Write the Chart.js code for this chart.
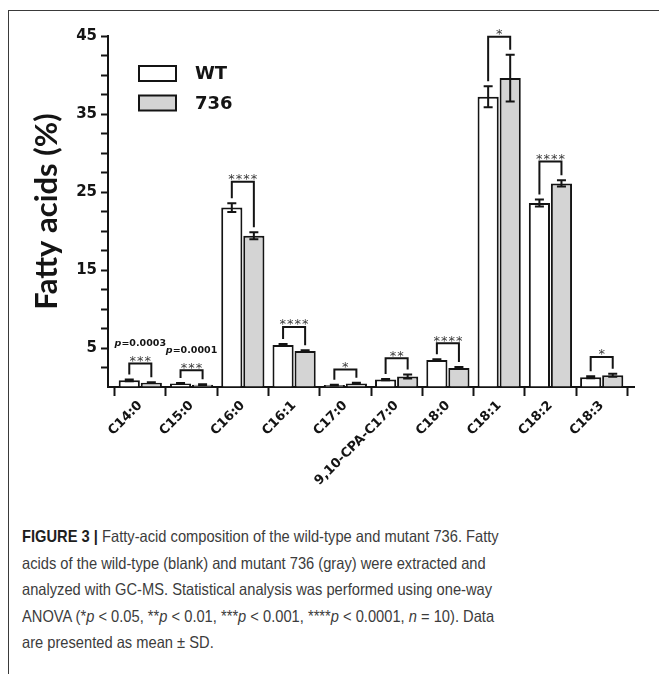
<!DOCTYPE html>
<html>
<head>
<meta charset="utf-8">
<script src="https://cdn.jsdelivr.net/npm/chart.js@4.4.0/dist/chart.umd.min.js"></script>
<style>
html, body { margin: 0; padding: 0; background: #fff; }
body { width: 659px; height: 674px; position: relative; overflow: hidden; }
#frame { position: absolute; left: 8px; top: 10px; width: 660px; height: 680px;
         border-left: 1.5px solid #3a3a3a; border-top: 1.5px solid #3a3a3a; }
#myChart { position: absolute; left: 0; top: 0; }
#caption { position: absolute; left: 22px; top: 523px; white-space: nowrap;
           font-family: "Liberation Sans", Arial, sans-serif;
           font-size: 16.5px; line-height: 26.5px; color: #3c3c3c;
           transform: scaleX(0.89); transform-origin: 0 0; }
#caption b { color: #1e1e1e; }
</style>
</head>
<body>
<div id="frame"></div>
<canvas id="myChart" width="659" height="520"></canvas>
<div id="caption">
<b>FIGURE 3 |</b> Fatty-acid composition of the wild-type and mutant 736. Fatty<br>
acids of the wild-type (blank) and mutant 736 (gray) were extracted and<br>
analyzed with GC-MS. Statistical analysis was performed using one-way<br>
ANOVA (*<i>p</i> &lt; 0.05, **<i>p</i> &lt; 0.01, ***<i>p</i> &lt; 0.001, ****<i>p</i> &lt; 0.0001, <i>n</i> = 10). Data<br>
are presented as mean &plusmn; SD.
</div>
<script>
// Fatty-acid composition, WT vs mutant 736
// bars + SD error bars + significance brackets

const ctx = document.getElementById('myChart');

// fatty acids (%), mean and SD
const acids = ['C14:0', 'C15:0', 'C16:0', 'C16:1', 'C17:0', '9,10-CPA-C17:0', 'C18:0', 'C18:1', 'C18:2', 'C18:3'];
const wtMean = [0.85, 0.45, 23.0, 5.4, 0.25, 0.95, 3.45, 37.2, 23.6, 1.25];
const wtSD = [0.1, 0.05, 0.55, 0.1, 0.05, 0.08, 0.12, 1.35, 0.45, 0.12];
const mutMean = [0.55, 0.3, 19.4, 4.6, 0.45, 1.35, 2.45, 39.6, 26.1, 1.5];
const mutSD = [0.05, 0.05, 0.45, 0.12, 0.08, 0.25, 0.12, 3.0, 0.4, 0.2];

// significance brackets (height of bracket in %)
const stars = ['***', '***', '****', '****', '*', '**', '****', '*', '****', '*'];
const bracketTop = [3.0, 2.15, 26.3, 7.7, 2.25, 3.7, 5.6, 44.9, 28.9, 3.85];
const pValues = ['0.0003', '0.0001', '', '', '', '', '', '', '', ''];

// labelled y ticks
const yLabels = [5, 15, 25, 35, 45];

const ink = '#141414';
const tickFont = 'DejaVu Sans';

const extras = {
    id: 'extras',
    afterDraw(chart) {
        const c = chart.ctx;
        const y = chart.scales.y;
        const wtBars = chart.getDatasetMeta(0).data;
        const mutBars = chart.getDatasetMeta(1).data;
        c.save();
        c.strokeStyle = ink;
        c.lineWidth = 2;

        // error bars
        [[wtBars, wtMean, wtSD], [mutBars, mutMean, mutSD]].forEach(([bars, means, sds]) => {
            bars.forEach((bar, i) => {
                const top = y.getPixelForValue(means[i] + sds[i]);
                const bot = y.getPixelForValue(means[i] - sds[i]);
                c.beginPath();
                c.moveTo(bar.x, top); c.lineTo(bar.x, bot);
                c.moveTo(bar.x - 4.5, top); c.lineTo(bar.x + 4.5, top);
                c.moveTo(bar.x - 4.5, bot); c.lineTo(bar.x + 4.5, bot);
                c.stroke();
            });
        });

        // brackets, stars, p values
        acids.forEach((a, i) => {
            const l = wtBars[i].x, r = mutBars[i].x;
            const top = y.getPixelForValue(bracketTop[i]);
            const lb = y.getPixelForValue(wtMean[i] + wtSD[i]) - 5;
            const rb = y.getPixelForValue(mutMean[i] + mutSD[i]) - 5;
            c.beginPath();
            c.moveTo(l, lb); c.lineTo(l, top); c.lineTo(r, top); c.lineTo(r, rb);
            c.stroke();

            c.fillStyle = '#3a3a3a';
            c.font = '13px "DejaVu Sans"';
            c.textAlign = 'center';
            c.textBaseline = 'alphabetic';
            c.letterSpacing = '1px';
            c.fillText(stars[i], (l + r) / 2 + 0.5, top + 1.5);
            c.letterSpacing = '0px';

            if (pValues[i]) {
                const cx = (l + r) / 2;
                c.fillStyle = ink;
                c.font = 'italic bold 9.5px "DejaVu Sans"';
                const w1 = c.measureText('p').width;
                c.font = 'bold 9.5px "DejaVu Sans"';
                const rest = '=' + pValues[i];
                const w2 = c.measureText(rest).width;
                const x0 = cx - (w1 + w2) / 2;
                c.textAlign = 'left';
                c.textBaseline = 'middle';
                c.fillText(rest, x0 + w1, top - 20);
                c.font = 'italic bold 9.5px "DejaVu Sans"';
                c.fillText('p', x0, top - 20);
            }
        });

        // legend inside plot
        const lx = chart.chartArea.left + 31;
        const ly = chart.chartArea.top + 30;
        chart.data.datasets.forEach((ds, k) => {
            const by = ly + k * 29.5;
            c.fillStyle = ds.backgroundColor;
            c.fillRect(lx, by, 37, 15);
            c.strokeRect(lx, by, 37, 15);
            c.fillStyle = ink;
            c.font = 'bold 18px "DejaVu Sans"';
            c.textAlign = 'left';
            c.textBaseline = 'middle';
            c.fillText(ds.label, lx + 56, by + 8.5);
        });
        c.restore();
    }
};

const chart = new Chart(ctx, {
    type: 'bar',
    data: {
        datasets: [{
            label: 'WT',
            data: wtMean.map((v, i) => ({x: i, y: v})),
            backgroundColor: '#ffffff',
            borderColor: ink,
            borderWidth: 2,
            categoryPercentage: 0.86,
            barPercentage: 0.96
        }, {
            label: '736',
            data: mutMean.map((v, i) => ({x: i, y: v})),
            backgroundColor: '#d4d4d4',
            borderColor: ink,
            borderWidth: 2,
            categoryPercentage: 0.86,
            barPercentage: 0.96
        }]
    },
    options: {
        responsive: false,
        animation: false,
        layout: {padding: {top: 36, right: 25, left: 0, bottom: 0}},
        plugins: {
            legend: {display: false},
            tooltip: {enabled: false}
        },
        scales: {
            x: {
                type: 'linear',
                offset: false,
                min: -0.63,
                max: 9.63,
                afterBuildTicks: s => { s.ticks = acids.map((a, i) => ({value: i})); },
                afterFit: s => {
                    s.height = 133;
                    s.paddingLeft = 0;
                    s.paddingRight = 0;
                },
                ticks: {
                    autoSkip: false,
                    minRotation: 45,
                    maxRotation: 45,
                    padding: 2,
                    color: ink,
                    font: {family: tickFont, weight: 'bold', size: 13},
                    callback: v => acids[v]
                },
                grid: {drawOnChartArea: false, tickLength: 9, tickWidth: 2, tickColor: ink},
                border: {color: ink, width: 2}
            },
            y: {
                min: 0,
                max: 45,
                afterFit: s => { s.width = 108; },
                ticks: {
                    stepSize: 2.5,
                    autoSkip: false,
                    padding: 4,
                    color: ink,
                    font: {family: tickFont, weight: 'bold', size: 15},
                    callback: v => yLabels.includes(v) ? v : ''
                },
                grid: {
                    drawOnChartArea: false,
                    tickLength: 7,
                    tickWidth: 2,
                    tickColor: c => (c.tick && c.tick.value === 0) ? 'rgba(0,0,0,0)' : ink
                },
                border: {color: ink, width: 2},
                title: {
                    display: true,
                    text: 'Fatty acids (%)',
                    color: ink,
                    font: {family: 'Lato', weight: 'bold', size: 31},
                    padding: {top: 28.5, bottom: 0}
                }
            }
        }
    },
    plugins: [extras]
});
</script>
</body>
</html>
